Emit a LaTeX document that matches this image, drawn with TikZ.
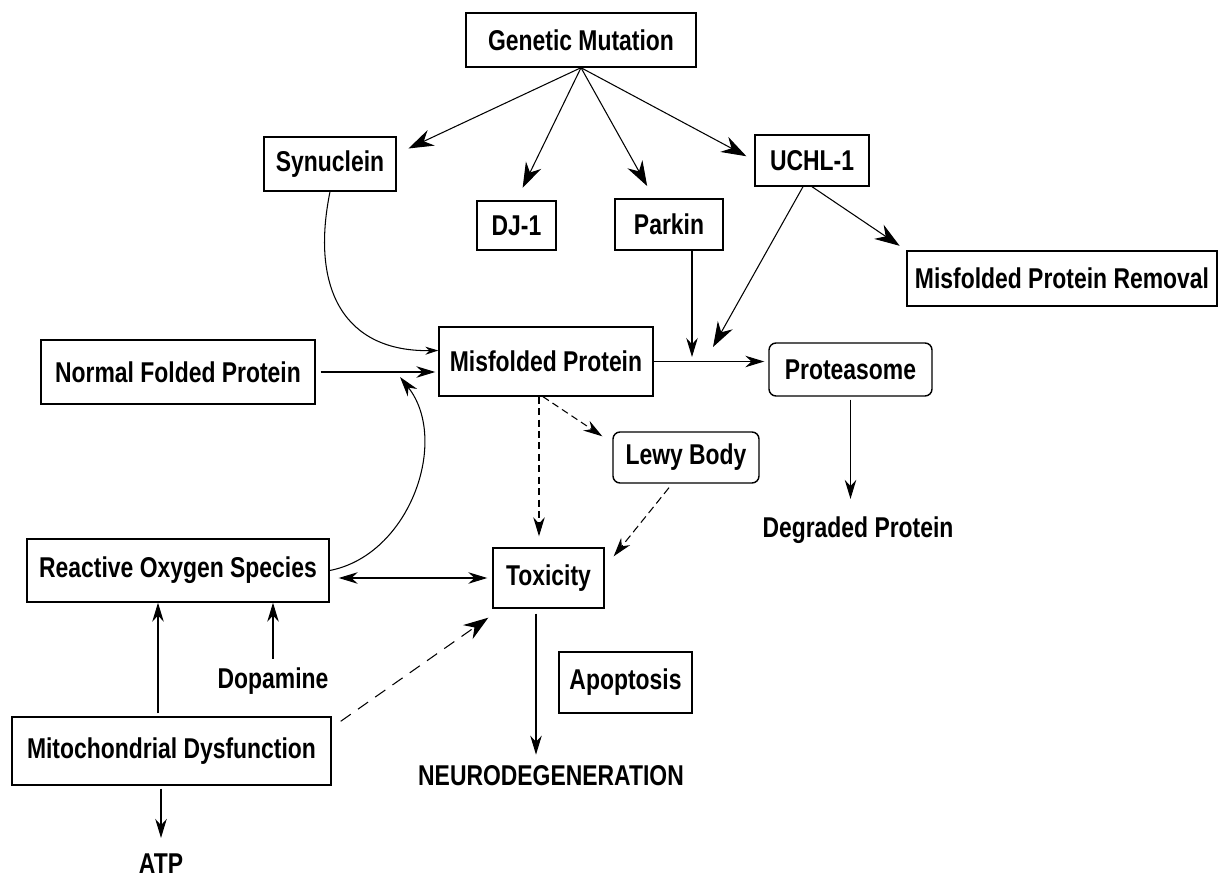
\documentclass[tikz,border=0pt]{standalone}
\usepackage{fontspec}
\setmainfont{Liberation Sans}[FakeStretch=0.8]
\usepackage{tikz}
\usetikzlibrary{arrows.meta}

\begin{document}
\begin{tikzpicture}[
  >={Stealth[length=0.38cm,width=0.23cm]},
  every node/.style={font=\bfseries\fontsize{16.3}{18}\selectfont},
  box/.style={draw, line width=0.8pt, inner sep=0pt},
  rbox/.style={box, rounded corners=4pt},
  txt/.style={anchor=base, inner sep=0pt},
  link/.style={->, line width=0.6pt},
  biglink/.style={-{Stealth[length=0.5cm,width=0.34cm]}, line width=0.6pt},
  dlink/.style={link, dash pattern=on 4pt off 2.5pt}
]
\useasboundingbox (0,0) rectangle (24.36,-17.58);
% boxes
\node[box, minimum width=4.6cm, minimum height=1.08cm] (gen) at (11.62,-0.80) {Genetic Mutation};
\node[box, minimum width=2.64cm, minimum height=1.08cm] (syn) at (6.60,-3.28) {Synuclein};
\node[box, minimum width=1.58cm, minimum height=0.98cm] (dj) at (10.33,-4.51) {DJ-1};
\node[box, minimum width=2.16cm, minimum height=1.02cm] (parkin) at (13.38,-4.49) {Parkin};
\node[box, minimum width=2.28cm, minimum height=1.02cm] (uchl) at (16.24,-3.21) {UCHL-1};
\node[box, minimum width=6.2cm, minimum height=1.1cm] (removal) at (21.24,-5.57) {Misfolded Protein Removal};
\node[box, minimum width=4.28cm, minimum height=1.38cm] (misf) at (10.92,-7.23) {Misfolded Protein};
\node[box, minimum width=5.48cm, minimum height=1.28cm] (normal) at (3.56,-7.44) {Normal Folded Protein};
\node[rbox, minimum width=3.26cm, minimum height=1.06cm] (prot) at (17.01,-7.39) {Proteasome};
\node[rbox, minimum width=2.92cm, minimum height=1.02cm] (lewy) at (13.72,-9.15) {Lewy Body};
\node[box, minimum width=2.22cm, minimum height=1.2cm] (tox) at (10.97,-11.56) {Toxicity};
\node[box, minimum width=6.04cm, minimum height=1.26cm] (ros) at (3.56,-11.41) {Reactive Oxygen Species};
\node[box, minimum width=2.66cm, minimum height=1.22cm] (apop) at (12.51,-13.65) {Apoptosis};
\node[box, minimum width=6.38cm, minimum height=1.36cm] (mito) at (3.43,-15.02) {Mitochondrial Dysfunction};
% plain labels
\node[txt] (degr) at (17.16,-10.74) {Degraded Protein};
\node[txt] (dopa) at (5.46,-13.76) {Dopamine};
\node[txt] (neuro) at (11.02,-15.70) {NEURODEGENERATION};
\node[txt] (atp) at (3.22,-17.46) {ATP};
% genetic mutation fan
\draw[biglink, shorten >=0.26cm] (gen.south) -- ([yshift=0.2cm]syn.east);
\draw[biglink, shorten >=0.28cm] (gen.south) -- (dj.north);
\draw[biglink, shorten >=0.28cm] (gen.south) -- ([xshift=-0.3cm]parkin.north);
\draw[biglink, shorten >=0.18cm] (gen.south) -- (uchl.west);
% proteasome pathway
\coordinate (park-in) at (13.84,-7.14);
\coordinate (uchl-in) at (14.26,-6.94);
\draw[link] (parkin.south -| park-in) -- (park-in);
\draw[biglink] ([xshift=-0.18cm]uchl.south) -- (uchl-in);
\draw[biglink, shorten >=0.16cm] (uchl.south) -- (removal.north west);
\draw[link, shorten >=0.08cm] (misf.east) -- (misf.east -| prot.west);
\draw[link, shorten <=0.06cm, shorten >=0.34cm] (prot.south) -- (prot.south |- degr.north);
% into misfolded protein
\draw[link, shorten <=0.1cm, shorten >=0.06cm] (normal.east) -- (normal.east -| misf.west);
\draw[-{Stealth[length=0.26cm,width=0.16cm]}, line width=0.6pt]
  (syn.south) .. controls (6.2,-5.8) and (6.9,-7.04) .. ([yshift=0.22cm]misf.west);
\coordinate (ros-in) at (8.0,-7.54);
\draw[-{Stealth[length=0.4cm,width=0.24cm]}, line width=0.6pt]
  (ros.east) .. controls (8.2,-11.1) and (9.0,-8.8) .. (ros-in);
% towards toxicity
\draw[dlink, shorten >=0.22cm] ([xshift=-0.14cm]misf.south) -- ([xshift=-0.14cm]misf.south |- tox.north);
\draw[dlink] ([xshift=-0.06cm]misf.south) -- ([xshift=-0.2cm,yshift=-0.1cm]lewy.north west);
\draw[dlink, dash pattern=on 4.5pt off 2.5pt] ([xshift=-0.34cm,yshift=-0.08cm]lewy.south) -- ([shift={(0.18,-0.18)}]tox.north east);
\draw[link, <->, shorten <=0.18cm, shorten >=0.1cm] (ros.east |- tox.west) -- (tox.west);
\draw[biglink, dash pattern=on 7pt off 5pt] ([shift={(0.18,-0.1)}]mito.north east) -- ([shift={(-0.08,-0.18)}]tox.south west);
\draw[link, shorten <=0.1cm, shorten >=0.2cm] ([xshift=-0.25cm]tox.south) -- ([xshift=-0.25cm]tox.south |- neuro.north);
% oxidative side
\draw[link, shorten <=0.06cm] ([xshift=-0.27cm]mito.north) -- ([xshift=-0.27cm]mito.north |- ros.south);
\draw[link] ([yshift=0.16cm]dopa.north) -- (dopa.north |- ros.south);
\draw[link, shorten <=0.06cm, shorten >=0.3cm] (atp.north |- mito.south) -- (atp.north);
\end{tikzpicture}
\end{document}
